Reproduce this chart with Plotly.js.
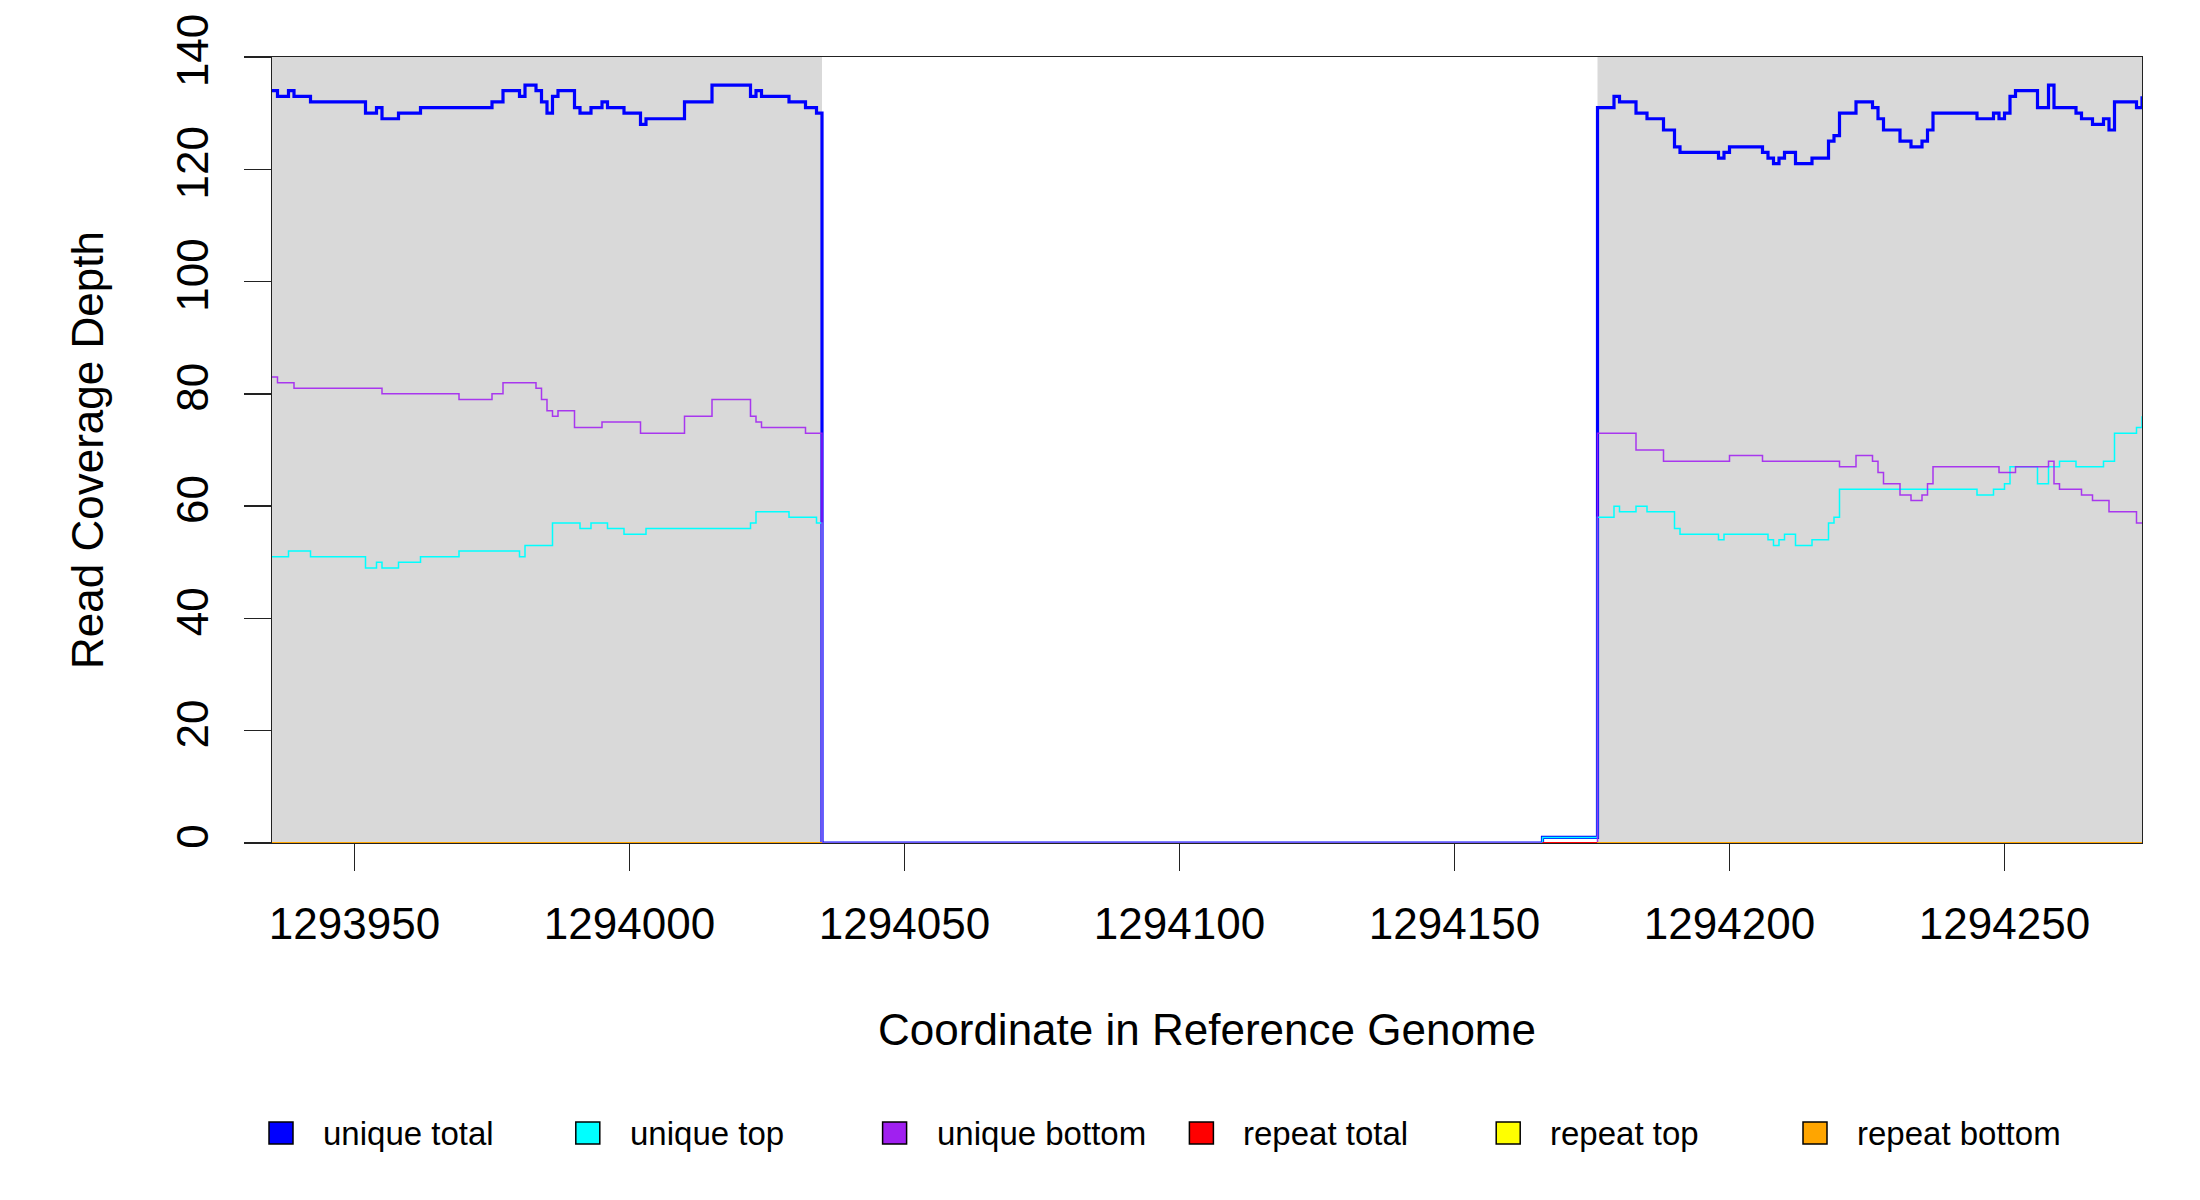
<!DOCTYPE html>
<html>
<head>
<meta charset="utf-8">
<script src="https://cdn.plot.ly/plotly-3.0.1.min.js"></script>
<style>
	html, body { margin: 0; padding: 0; background: #ffffff; }
	#plot { width: 2200px; height: 1200px; }
</style>
</head>
<body>
<div id="plot"></div>
<script>
	// Coverage values (start coordinate -> depth).

	const uniqueTotalX = [
		1293935, 1293936, 1293938, 1293939, 1293942, 1293952, 1293954, 1293955, 1293958, 1293962,
		1293975, 1293977, 1293980, 1293981, 1293983, 1293984, 1293985, 1293986, 1293987, 1293990,
		1293991, 1293993, 1293995, 1293996, 1293999, 1294002, 1294003, 1294010, 1294015, 1294022,
		1294023, 1294024, 1294029, 1294032, 1294034, 1294035, 1294166,
		1294176, 1294179, 1294180, 1294183, 1294185, 1294188, 1294190, 1294191, 1294198, 1294199,
		1294200, 1294206, 1294207, 1294208, 1294209, 1294210, 1294212, 1294215, 1294218, 1294219,
		1294220, 1294223, 1294226, 1294227, 1294228, 1294231, 1294233, 1294235, 1294236, 1294237,
		1294245, 1294248, 1294249, 1294250, 1294251, 1294252, 1294256, 1294258, 1294259, 1294263,
		1294264, 1294266, 1294268, 1294269, 1294270, 1294274, 1294275
	];
	const uniqueTotalY = [
		134, 133, 134, 133, 132, 130, 131, 129, 130, 131,
		132, 134, 133, 135, 134, 132, 130, 133, 134, 131,
		130, 131, 132, 131, 130, 128, 129, 132, 135, 133,
		134, 133, 132, 131, 130, 0, 1,
		131, 133, 132, 130, 129, 127, 124, 123, 122, 123,
		124, 123, 122, 121, 122, 123, 121, 122, 125, 126,
		130, 132, 131, 129, 127, 125, 124, 125, 127, 130,
		129, 130, 129, 130, 133, 134, 131, 135, 131, 130,
		129, 128, 129, 127, 132, 131, 133
	];

	const uniqueTopX = [
		1293935, 1293938, 1293942, 1293952, 1293954, 1293955, 1293958, 1293962, 1293969, 1293980,
		1293981, 1293986, 1293991, 1293993, 1293996, 1293999, 1294003, 1294022, 1294023, 1294029,
		1294034, 1294035, 1294166,
		1294176, 1294179, 1294180, 1294183, 1294185, 1294190, 1294191, 1294198, 1294199, 1294207,
		1294208, 1294209, 1294210, 1294212, 1294215, 1294218, 1294219, 1294220, 1294245, 1294248,
		1294250, 1294251, 1294256, 1294258, 1294260, 1294263, 1294268, 1294270, 1294274, 1294275
	];
	const uniqueTopY = [
		51, 52, 51, 49, 50, 49, 50, 51, 52, 51,
		53, 57, 56, 57, 56, 55, 56, 57, 59, 58,
		57, 0, 1,
		58, 60, 59, 60, 59, 56, 55, 54, 55, 54,
		53, 54, 55, 53, 54, 57, 58, 63, 62, 63,
		64, 67, 64, 67, 68, 67, 68, 73, 74, 76
	];

	const uniqueBottomX = [
		1293935, 1293936, 1293939, 1293955, 1293969, 1293975, 1293977, 1293983, 1293984, 1293985,
		1293986, 1293987, 1293990, 1293995, 1294002, 1294010, 1294015, 1294022, 1294023, 1294024,
		1294032, 1294035,
		1294176, 1294183, 1294188, 1294200, 1294206, 1294220, 1294223, 1294226, 1294227, 1294228,
		1294231, 1294233, 1294235, 1294236, 1294237, 1294249, 1294252, 1294258, 1294259, 1294260,
		1294264, 1294266, 1294269, 1294274, 1294275
	];
	const uniqueBottomY = [
		83, 82, 81, 80, 79, 80, 82, 81, 79, 77,
		76, 77, 74, 75, 73, 76, 79, 76, 75, 74,
		73, 0,
		73, 70, 68, 69, 68, 67, 69, 68, 66, 64,
		62, 61, 62, 64, 67, 66, 67, 68, 64, 63,
		62, 61, 59, 57, 57
	];

	// Repeat coverage is flat at zero inside the shaded windows (null breaks the line).
	const repeatTotalX = [1293935, 1294035, null, 1294166, 1294275];
	const repeatTotalY = [0, 0, null, 0, 0];
	const repeatTopX = [1293935, 1294035, null, 1294176, 1294275];
	const repeatTopY = [0, 0, null, 0, 0];
	const repeatBottomX = [1293935, 1294035, null, 1294176, 1294275];
	const repeatBottomY = [0, 0, null, 0, 0];

	// Shaded windows.
	const shadeStart = [1293935, 1294176];
	const shadeEnd = [1294035, 1294275];

	// Axes.
	const xRange = [1293935, 1294275];
	const yRange = [0, 140];
	const xTickVals = [1293950, 1294000, 1294050, 1294100, 1294150, 1294200, 1294250];
	const yTickVals = [0, 20, 40, 60, 80, 100, 120, 140];

	// Legend.
	const legendLabels = ['unique total', 'unique top', 'unique bottom', 'repeat total', 'repeat top', 'repeat bottom'];
	const legendColors = ['#0000ff', '#00ffff', '#a020f0', '#ff0000', '#ffff00', '#ffa500'];


	// Plot frame in pixels.
	const W = 2200, H = 1200;
	const plotLeft = 272, plotRight = 2142, plotTop = 57, plotBottom = 843;
	const plotW = plotRight - plotLeft, plotH = plotBottom - plotTop;
	const px2paperX = px => (px - plotLeft) / plotW;
	const px2paperY = py => (plotBottom - py) / plotH;

	const fontFamily = '"Liberation Sans", Arial, Helvetica, sans-serif';

	function stepTrace(x, y, color, width) {
		return {
			x: x,
			y: y,
			mode: 'lines',
			line: { shape: 'hv', color: color, width: width },
			connectgaps: false,
			hoverinfo: 'skip',
			showlegend: false
		};
	}

	const data = [
		stepTrace(uniqueTotalX, uniqueTotalY, '#0000ff', 3.2),
		stepTrace(uniqueTopX, uniqueTopY, '#00ffff', 1.5),
		stepTrace(uniqueBottomX, uniqueBottomY, 'rgba(160,32,240,0.88)', 1.5),
		stepTrace(repeatTotalX, repeatTotalY, '#ff0000', 1.8),
		stepTrace(repeatTopX, repeatTopY, '#ffff00', 1.8),
		stepTrace(repeatBottomX, repeatBottomY, '#ffa500', 1.8)
	];

	// Gray shading behind the traces.
	const shapes = shadeStart.map((x0, i) => ({
		type: 'rect',
		xref: 'x', yref: 'y',
		x0: x0, x1: shadeEnd[i],
		y0: yRange[0], y1: yRange[1],
		fillcolor: '#d9d9d9',
		line: { width: 0 },
		layer: 'below'
	}));

	// Legend row drawn by hand so the swatches can be large squares.
	const annotations = [];
	const legendY = px2paperY(1133);
	legendLabels.forEach((label, i) => {
		const cx = 281 + i * 306.8;
		shapes.push({
			type: 'rect',
			xref: 'paper', yref: 'paper',
			xsizemode: 'pixel', ysizemode: 'pixel',
			xanchor: px2paperX(cx), yanchor: legendY,
			x0: -12, x1: 12, y0: -11, y1: 11,
			fillcolor: legendColors[i],
			line: { color: '#000000', width: 1.5 }
		});
		annotations.push({
			xref: 'paper', yref: 'paper',
			x: px2paperX(cx + 40), y: legendY,
			xanchor: 'left', yanchor: 'middle',
			text: label,
			showarrow: false,
			font: { family: fontFamily, size: 33, color: '#000000' }
		});
	});

	const layout = {
		width: W,
		height: H,
		margin: { l: plotLeft, r: W - plotRight, t: plotTop, b: H - plotBottom, pad: 0 },
		paper_bgcolor: '#ffffff',
		plot_bgcolor: '#ffffff',
		font: { family: fontFamily, size: 44, color: '#000000' },
		showlegend: false,
		xaxis: {
			range: xRange,
			showgrid: false,
			zeroline: false,
			showline: true,
			mirror: true,
			linecolor: '#222222',
			linewidth: 1.4,
			ticks: 'outside',
			ticklen: 27,
			tickwidth: 1.4,
			tickcolor: '#222222',
			tickvals: xTickVals,
			ticktext: xTickVals.map(String),
			ticklabelstandoff: 15,
			tickfont: { size: 44 },
			layer: 'below traces',
			title: {
				text: 'Coordinate in Reference Genome',
				font: { size: 44 },
				standoff: 67
			}
		},
		yaxis: {
			range: yRange,
			showgrid: false,
			zeroline: false,
			showline: true,
			mirror: true,
			linecolor: '#222222',
			linewidth: 1.4,
			ticks: 'outside',
			ticklen: 27,
			tickwidth: 1.4,
			tickcolor: '#222222',
			tickvals: yTickVals,
			tickangle: -90,
			ticklabelstandoff: 18,
			tickfont: { size: 44 },
			layer: 'below traces',
			title: {
				text: 'Read Coverage Depth',
				font: { size: 44 },
				standoff: 50
			}
		},
		shapes: shapes,
		annotations: annotations
	};

	Plotly.newPlot('plot', data, layout, { staticPlot: true, displayModeBar: false });
</script>
</body>
</html>
